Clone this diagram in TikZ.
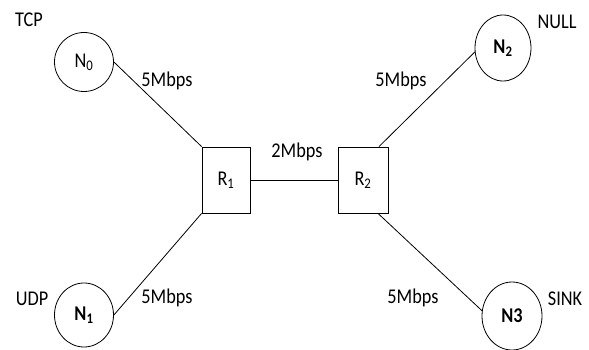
\documentclass[tikz,border=0pt]{standalone}
\usepackage{fontspec}
\setmainfont{Carlito}[FakeStretch=0.87]
\usetikzlibrary{shapes.geometric}
\begin{document}
\begin{tikzpicture}[x=1pt,y=-1pt,line width=0.8pt,
        every node/.style={font=\fontsize{21}{25}\selectfont},
        host/.style={draw,ellipse,inner sep=0pt,minimum width=59pt,minimum height=64pt},
        router/.style={draw,rectangle,inner sep=0pt,minimum width=48pt,minimum height=66pt},
        rate/.style={inner sep=0pt}]
        \useasboundingbox (0,0) rectangle (589,350);
        \node[host,minimum height=59pt] (N0) at (84,62) {N\textsubscript{0}};
        \node[host] (N1) at (84,315) {\textbf{N\textsubscript{1}}};
        \node[host,minimum width=56pt,minimum height=66pt] (N2) at (503,48) {\textbf{N\textsubscript{2}}};
        \node[host,minimum width=60pt,minimum height=68pt] (N3) at (512,316) {\textbf{N3}};
        \node[router] (R1) at (226,180) {R\textsubscript{1}};
        \node[router,minimum width=50pt] (R2) at (363,180) {R\textsubscript{2}};
        \node[rate] (tcp) at (29,20) {TCP};
        \node[rate] (null) at (557,22) {NULL};
        \node[rate] (udp) at (32,299) {UDP};
        \node[rate] (sink) at (565,299) {SINK};
        \node[rate] (r01) at (167,81) {5Mbps};
        \node[rate] (r22) at (401,81) {5Mbps};
        \node[rate] (r11) at (167,298) {5Mbps};
        \node[rate] (r23) at (413,298) {5Mbps};
        \node[rate] (r12) at (297,152) {2Mbps};
        \draw (N0.east) -- (R1.north west);
        \draw (N1.east) -- (R1.south west);
        \draw (R1) -- (R2);
        \draw ([xshift=16pt]R2.north) -- (N2.188);
        \draw ([xshift=15pt]R2.south) -- (N3.170);
        \end{tikzpicture}
\end{document}
